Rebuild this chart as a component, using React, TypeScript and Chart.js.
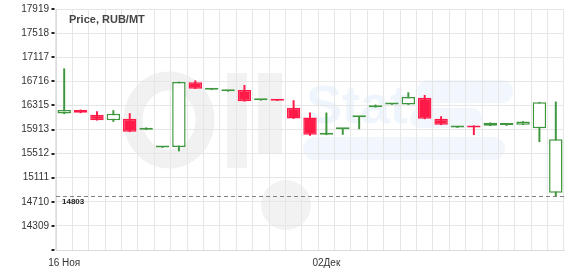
import React, { useEffect, useRef } from "react";
import { Chart, registerables } from "chart.js";

Chart.register(...registerables);

const categories = [
  "16 Ноя", "17 Ноя", "18 Ноя", "19 Ноя", "20 Ноя", "21 Ноя", "22 Ноя", "23 Ноя",
  "24 Ноя", "25 Ноя", "26 Ноя", "27 Ноя", "28 Ноя", "29 Ноя", "30 Ноя", "01Дек",
  "02Дек", "03Дек", "04Дек", "05Дек", "06Дек", "07Дек", "08Дек", "09Дек",
  "10Дек", "11Дек", "12Дек", "13Дек", "14Дек", "15Дек", "16Дек",
];
const opens = [
  16178, 16238, 16158, 16068, 16091, 15909, 15614, 15621, 16700, 16575, 16549,
  16572, 16400, 16406, 16274, 16113, 15825, 15918, 16118, 16285, 16330, 16328,
  16440, 16091, 15946, 15958, 15975, 15988, 15992, 15936, 14860,
];
const highs = [
  16925, 16240, 16212, 16229, 16179, 15942, 15628, 16704, 16726, 16589, 16561,
  16648, 16412, 16406, 16395, 16190, 16190, 15930, 16130, 16323, 16340, 16527,
  16482, 16129, 15958, 15975, 16025, 16010, 16047, 16366, 16373,
];
const lows = [
  16175, 16190, 16068, 16047, 15876, 15909, 15614, 15555, 16593, 16575, 16549,
  16383, 16400, 16394, 16096, 15815, 15825, 15831, 15925, 16285, 16330, 16328,
  16091, 15992, 15946, 15826, 15975, 15980, 15992, 15710, 14803,
];
const closes = [
  16238, 16192, 16068, 16174, 15876, 15942, 15628, 16704, 16593, 16589, 16561,
  16383, 16412, 16394, 16096, 15826, 15837, 15930, 16130, 16295, 16340, 16456,
  16091, 15992, 15958, 15948, 16025, 15998, 16047, 16366, 15753,
];
const yTicks = [13908, 14309, 14710, 15111, 15512, 15913, 16315, 16716, 17117, 17518, 17919];
const xTickLabels = ["16 Ноя", "02Дек"];
const lastPrice = 14803;
const titleText = "Price, RUB/MT";

const GREEN = "#3e973e";
const RED = "#ff1a48";
const FONT = "'Liberation Sans', Arial, sans-serif";

export default function App() {
  const ref = useRef<HTMLCanvasElement>(null);

  useEffect(() => {
    const up = closes.map((c, i) => c >= opens[i]);

    const overlay = {
      id: "overlay",
      beforeDraw(chart: any) {
        const { ctx } = chart;
        ctx.save();
        // faint watermark
        ctx.strokeStyle = "rgba(0,0,0,0.055)";
        ctx.lineWidth = 19;
        ctx.beginPath();
        ctx.ellipse(169, 120, 36, 39, 0, 0, Math.PI * 2);
        ctx.stroke();
        ctx.fillStyle = "rgba(0,0,0,0.05)";
        ctx.fillRect(227, 73, 20, 95);
        ctx.fillRect(258, 73, 24, 80);
        ctx.beginPath();
        ctx.arc(286, 205, 25, 0, Math.PI * 2);
        ctx.fill();
        ctx.fillStyle = "rgba(120,175,230,0.13)";
        ctx.font = `bold 54px ${FONT}`;
        ctx.textBaseline = "alphabetic";
        ctx.fillText("Stat", 306, 123);
        const rr = (x: number, y: number, w: number, h: number) => {
          const r = h / 2;
          ctx.beginPath();
          ctx.moveTo(x + r, y);
          ctx.lineTo(x + w - r, y);
          ctx.arc(x + w - r, y + r, r, -Math.PI / 2, Math.PI / 2);
          ctx.lineTo(x + r, y + h);
          ctx.arc(x + r, y + r, r, Math.PI / 2, (3 * Math.PI) / 2);
          ctx.fill();
        };
        ctx.fillStyle = "rgba(120,175,230,0.10)";
        rr(417, 80, 96, 23);
        rr(410, 108, 72, 20);
        rr(303, 137, 202, 23);
        ctx.restore();
      },
      afterDraw(chart: any) {
        const { ctx, chartArea, scales } = chart;
        const y = scales.y;
        ctx.save();
        // y tick marks
        ctx.fillStyle = "#222";
        for (const v of yTicks) {
          const py = Math.round(y.getPixelForValue(v));
          ctx.fillRect(51.5, py - 1, 3, 2);
        }
        // last price line
        const ly = Math.round(y.getPixelForValue(lastPrice)) + 0.5;
        ctx.strokeStyle = "#808080";
        ctx.lineWidth = 1;
        ctx.setLineDash([4, 3]);
        ctx.beginPath();
        ctx.moveTo(chartArea.left, ly);
        ctx.lineTo(chartArea.right, ly);
        ctx.stroke();
        ctx.setLineDash([]);
        ctx.fillStyle = "#222";
        ctx.font = `bold 8px ${FONT}`;
        ctx.textBaseline = "alphabetic";
        ctx.fillText(String(lastPrice), 62, ly + 7.5);
        // title
        ctx.fillStyle = "#444";
        ctx.font = `bold 11px ${FONT}`;
        ctx.fillText(titleText, 69, 23);
        ctx.restore();
      },
    };

    const chart = new Chart(ref.current!, {
      type: "bar",
      data: {
        labels: categories,
        datasets: [
          {
            label: "body",
            data: opens.map((o, i) => [o, closes[i]]),
            backgroundColor: up.map((u) => (u ? "#ffffff" : RED)),
            borderColor: up.map((u) => (u ? GREEN : RED)),
            borderWidth: 1.5,
            borderSkipped: false,
            barPercentage: 0.82,
            categoryPercentage: 1,
            grouped: false,
            order: 0,
            minBarLength: 2,
          } as any,
          {
            label: "wick",
            data: lows.map((l, i) => [l, highs[i]]),
            backgroundColor: up.map((u) => (u ? GREEN : RED)),
            borderWidth: 0,
            barThickness: 1.3,
            grouped: false,
            order: 1,
          } as any,
        ],
      },
      options: {
        animation: false,
        responsive: false,
        maintainAspectRatio: false,
        layout: { padding: { left: 0, right: 16, top: 9, bottom: 0 } },
        plugins: { legend: { display: false }, tooltip: { enabled: false } },
        scales: {
          x: {
            offset: true,
            afterFit: (s: any) => {
              s.height = 21;
              s.paddingLeft = 0;
              s.paddingRight = 0;
            },
            grid: { offset: true, color: "#e6e6e6", drawTicks: false },
            border: { color: "#dcdcdc" },
            ticks: {
              autoSkip: false,
              maxRotation: 0,
              padding: 7,
              color: "#333",
              font: { family: FONT, size: 10 },
              callback: (_v: any, i: number) =>
                xTickLabels.includes(categories[i]) ? categories[i] : "",
            },
          },
          y: {
            min: yTicks[0],
            max: yTicks[yTicks.length - 1],
            afterBuildTicks: (s: any) => {
              s.ticks = yTicks.map((v) => ({ value: v }));
            },
            afterFit: (s: any) => {
              s.width = 56;
              s.paddingTop = 0;
              s.paddingBottom = 0;
            },
            grid: { color: "#e6e6e6", drawTicks: false },
            border: { color: "#dcdcdc" },
            ticks: {
              padding: 7,
              color: "#333",
              font: { family: FONT, size: 10 },
              callback: (v: any, i: number) => (i === 0 ? "" : String(v)),
            },
          },
        },
      },
      plugins: [overlay],
    });
    return () => chart.destroy();
  }, []);

  return (
    <div style={{ position: "absolute", left: 0, top: 0, width: 580, height: 271, background: "#fff" }}>
      <canvas ref={ref} width={580} height={271} style={{ display: "block" }} />
    </div>
  );
}
